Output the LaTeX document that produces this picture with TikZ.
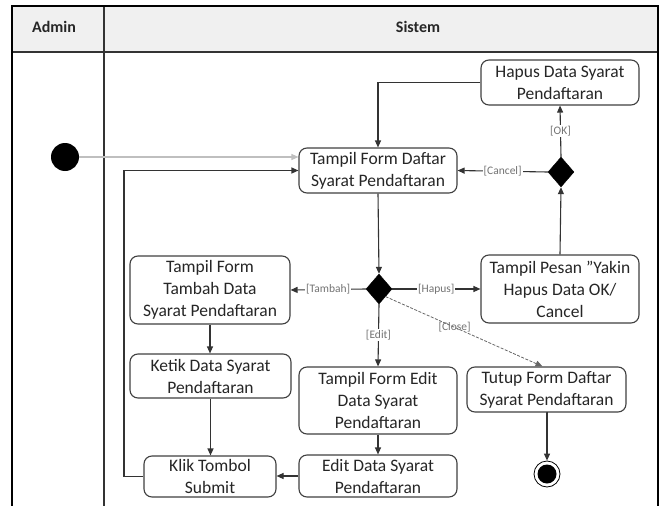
\documentclass[tikz,border=0pt]{standalone}
\usepackage{fontspec}
\setmainfont{Carlito}
\usetikzlibrary{shapes.geometric,arrows.meta}
\begin{document}
\begin{tikzpicture}[x=1pt,y=-1pt,
  act/.style={draw=black!75,line width=1.1pt,rounded corners=8pt,fill=white,align=center,
    font=\fontsize{17.5}{22}\selectfont,text=black!85,inner sep=0pt},
  decision/.style={diamond,fill=black,draw=black,inner sep=0pt,minimum width=26pt,minimum height=30pt},
  startnode/.style={circle,fill=black,minimum size=28pt,inner sep=0pt},
  endnode/.style={circle,draw=black,line width=0.8pt,fill=white,minimum size=26pt,inner sep=0pt,
    path picture={\fill[black] (path picture bounding box.center) circle (9.5pt);}},
  flow/.style={draw=black!80,line width=1.1pt,-{Triangle[length=7pt,width=6pt]}},
  guard/.style={font=\fontsize{11.5}{12}\selectfont,text=black!55,fill=white,inner sep=1pt},
  lane/.style={draw=black!80,line width=1.2pt},
  border/.style={draw=black,line width=2pt}
]
\useasboundingbox (0,0) rectangle (664,506);
% swimlanes
\fill[black!6] (12,6) rectangle (658,52);
\draw[lane] (12,52) -- (658,52);
\draw[lane] (104,6) -- (104,506);
\draw[border] (12,506) -- (12,6) -- (658,6) -- (658,506);
\node[font=\bfseries\fontsize{16}{19}\selectfont,text=black!85] (hadmin) at (54,27) {Admin};
\node[font=\bfseries\fontsize{16}{19}\selectfont,text=black!85] (hsistem) at (418,27) {Sistem};

% nodes
\node[startnode] (start) at (65,157) {};
\node[act,minimum width=158pt,minimum height=45pt] (hapus) at (560,82.5) {Hapus Data Syarat\\Pendaftaran};
\node[act,minimum width=158pt,minimum height=45pt] (tfd) at (378,170.5) {Tampil Form Daftar\\Syarat Pendaftaran};
\node[decision] (d1) at (561,172) {};
\node[decision] (d2) at (379,289) {};
\node[act,minimum width=160pt,minimum height=68pt] (tambah) at (210,290) {Tampil Form\\Tambah Data\\Syarat Pendaftaran};
\node[act,minimum width=158pt,minimum height=68pt] (pesan) at (560,289) {Tampil Pesan "Yakin\\Hapus Data OK/\\Cancel};
\node[act,minimum width=161pt,minimum height=44pt] (ketik) at (210.5,376) {Ketik Data Syarat\\Pendaftaran};
\node[act,minimum width=158pt,minimum height=67pt] (editform) at (378,400.5) {Tampil Form Edit\\Data Syarat\\Pendaftaran};
\node[act,minimum width=159pt,minimum height=45pt] (tutup) at (546.5,389.5) {Tutup Form Daftar\\Syarat Pendaftaran};
\node[act,minimum width=132pt,minimum height=41pt] (klik) at (210,476.5) {Klik Tombol\\Submit};
\node[act,minimum width=158pt,minimum height=42pt] (editdata) at (378,476) {Edit Data Syarat\\Pendaftaran};
\node[endnode] (end) at (547,474) {};
\coordinate (ret) at (124,170.5);

% flows
\draw[flow,draw=black!25] (start.east) -- (tfd.west |- start);
\draw[flow] (hapus.west) -| (tfd.north);
\draw[flow] (d1.north) -- node[guard] (lok) {[OK]} (hapus.south);
\draw[flow] (d1.west) -- node[guard] (lcancel) {[Cancel]} (tfd.east);
\draw[flow] (pesan.north) -- (d1.south);
\draw[flow] (tfd.south) -- (d2.north);
\draw[flow] (d2.west) -- node[guard] (ltambah) {[Tambah]} (tambah.east);
\draw[flow] (d2.east) -- node[guard] (lhapus) {[Hapus]} (pesan.west);
\draw[flow] (d2.south) -- node[guard] (ledit) {[Edit]} (editform.north);
\draw[flow,draw=black!60,line width=0.8pt,dash pattern=on 3pt off 1.5pt] (d2.south east) -- node[guard,pos=0.44,fill=none] (lclose) {[Close]} ([xshift=-4pt]tutup.north);
\draw[flow] (tambah.south) -- (tambah.south |- ketik.north);
\draw[flow] (ketik.south) -- (ketik.south |- klik.north);
\draw[flow] (editform.south) -- (editdata.north);
\draw[flow] (editdata.west) -- (klik.east |- editdata.west);
\draw[flow] (klik.west) -| (ret) -- (tfd.west);
\draw[flow] (tutup.south) -- (tutup.south -| end) -- (end.north);
\end{tikzpicture}
\end{document}
